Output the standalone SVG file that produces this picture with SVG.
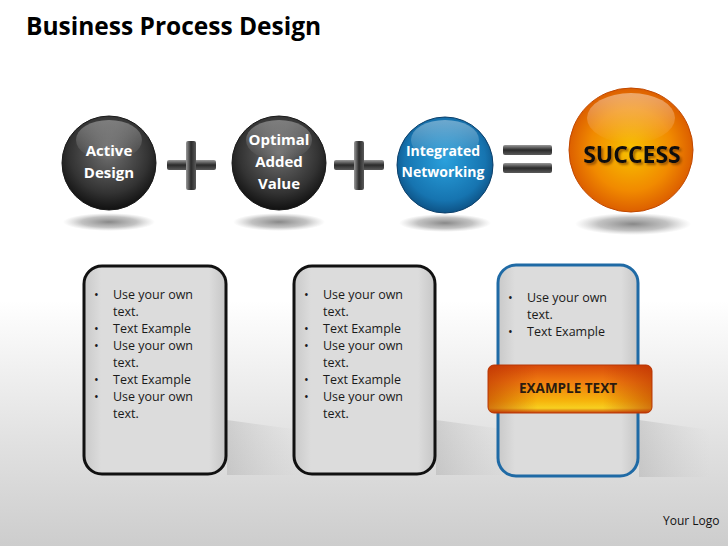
<svg xmlns="http://www.w3.org/2000/svg" width="728" height="546" viewBox="0 0 728 546">
<defs>
<linearGradient id="bg" x1="0" y1="0" x2="0" y2="1">
<stop offset="0" stop-color="#ffffff"/>
<stop offset="0.55" stop-color="#ffffff"/>
<stop offset="0.8" stop-color="#e2e2e2"/>
<stop offset="1" stop-color="#cdcdcd"/>
</linearGradient>
<radialGradient id="dark" cx="0.5" cy="0.4" r="0.6">
<stop offset="0" stop-color="#6e6e6e"/>
<stop offset="0.7" stop-color="#333333"/>
<stop offset="1" stop-color="#111111"/>
</radialGradient>
<radialGradient id="blue" cx="0.5" cy="0.45" r="0.6">
<stop offset="0" stop-color="#2aa0dc"/>
<stop offset="0.7" stop-color="#1674b0"/>
<stop offset="1" stop-color="#0a4676"/>
</radialGradient>
<radialGradient id="orange" cx="0.5" cy="0.5" r="0.55">
<stop offset="0" stop-color="#f8c200"/>
<stop offset="0.6" stop-color="#f18a00"/>
<stop offset="1" stop-color="#d65200"/>
</radialGradient>
<linearGradient id="gloss" x1="0" y1="0" x2="0" y2="1">
<stop offset="0" stop-color="#ffffff" stop-opacity="0.75"/>
<stop offset="1" stop-color="#ffffff" stop-opacity="0"/>
</linearGradient>
<radialGradient id="shadow" cx="0.5" cy="0.5" r="0.5">
<stop offset="0" stop-color="#555" stop-opacity="0.7"/>
<stop offset="0.6" stop-color="#777" stop-opacity="0.45"/>
<stop offset="1" stop-color="#999" stop-opacity="0"/>
</radialGradient>
<linearGradient id="bar" x1="0" y1="0" x2="0" y2="1">
<stop offset="0" stop-color="#9a9a9a"/>
<stop offset="0.5" stop-color="#2a2a2a"/>
<stop offset="1" stop-color="#5a5a5a"/>
</linearGradient>
<linearGradient id="barv" x1="0" y1="0" x2="1" y2="0">
<stop offset="0" stop-color="#9a9a9a"/>
<stop offset="0.5" stop-color="#2a2a2a"/>
<stop offset="1" stop-color="#5a5a5a"/>
</linearGradient>
<linearGradient id="card" x1="0" y1="0" x2="1" y2="0">
<stop offset="0" stop-color="#c9c9c9"/>
<stop offset="0.12" stop-color="#dcdcdc"/>
<stop offset="0.88" stop-color="#dcdcdc"/>
<stop offset="1" stop-color="#c6c6c6"/>
</linearGradient>
<linearGradient id="band" x1="0" y1="0" x2="0" y2="1">
<stop offset="0" stop-color="#d84a0a"/>
<stop offset="0.35" stop-color="#f07d10"/>
<stop offset="0.75" stop-color="#f6b40c"/>
<stop offset="0.9" stop-color="#f7d020"/>
<stop offset="1" stop-color="#c8400a"/>
</linearGradient>
<linearGradient id="bandside" x1="0" y1="0" x2="1" y2="0">
<stop offset="0" stop-color="#b52a00" stop-opacity="0.55"/>
<stop offset="0.3" stop-color="#b52a00" stop-opacity="0"/>
<stop offset="0.7" stop-color="#b52a00" stop-opacity="0"/>
<stop offset="1" stop-color="#b52a00" stop-opacity="0.55"/>
</linearGradient>
<linearGradient id="cardshadow" x1="0" y1="0" x2="1" y2="0">
<stop offset="0" stop-color="#888" stop-opacity="0.5"/>
<stop offset="1" stop-color="#aaa" stop-opacity="0"/>
</linearGradient>
<filter id="ts" x="-10%" y="-30%" width="130%" height="170%">
<feDropShadow dx="2" dy="2" stdDeviation="1" flood-color="#6a3000" flood-opacity="0.6"/>
</filter>
</defs>
<style>
.t{font-family:"Open Sans","Liberation Sans",sans-serif}
.title{font-size:24.5px;font-weight:bold;fill:#000}
.ct{font-size:15px;font-weight:bold;fill:#fff;text-anchor:middle}
.bt{font-size:12.5px;fill:#1a1a1a}
.cardd{fill:url(#card);stroke:#111;stroke-width:3}
.cardb{fill:url(#card);stroke:#1f6aa5;stroke-width:3}
</style>
<rect width="728" height="546" fill="url(#bg)"/>
<text class="t title" x="26" y="35">Business Process Design</text>

<g id="shadows">
<ellipse cx="109" cy="222" rx="46" ry="9" fill="url(#shadow)"/>
<ellipse cx="279" cy="222" rx="46" ry="9" fill="url(#shadow)"/>
<ellipse cx="445" cy="223" rx="46" ry="9" fill="url(#shadow)"/>
<ellipse cx="633" cy="224" rx="58" ry="11" fill="url(#shadow)"/>
<polygon points="227,420 300,430 300,475 227,475" fill="url(#cardshadow)" opacity="0.5"/>
<polygon points="436,420 510,430 510,475 436,475" fill="url(#cardshadow)" opacity="0.5"/>
<polygon points="639,420 710,430 710,477 639,477" fill="url(#cardshadow)" opacity="0.5"/>
</g>

<g id="node-active-design">
<circle cx="109" cy="163" r="47" fill="url(#dark)" stroke="#1a1a1a" stroke-width="1"/>
<ellipse cx="109" cy="140" rx="33" ry="20" fill="url(#gloss)" opacity="0.45"/>
<text class="t ct" x="109" y="156">Active</text>
<text class="t ct" x="109" y="178">Design</text>
</g>

<g id="node-optimal-added-value">
<circle cx="279" cy="163" r="47" fill="url(#dark)" stroke="#1a1a1a" stroke-width="1"/>
<ellipse cx="279" cy="140" rx="33" ry="20" fill="url(#gloss)" opacity="0.45"/>
<text class="t ct" x="279" y="145">Optimal</text>
<text class="t ct" x="279" y="167">Added</text>
<text class="t ct" x="279" y="189">Value</text>
</g>

<g id="node-integrated-networking">
<circle cx="445" cy="165" r="48" fill="url(#blue)" stroke="#0b3f6a" stroke-width="1"/>
<ellipse cx="445" cy="140" rx="34" ry="20" fill="url(#gloss)" opacity="0.5"/>
<text class="t ct" x="443" y="156" style="font-size:14px">Integrated</text>
<text class="t ct" x="443" y="177" style="font-size:14px">Networking</text>
</g>

<g id="node-success">
<circle cx="631" cy="150" r="62" fill="url(#orange)" stroke="#c04800" stroke-width="1"/>
<ellipse cx="631" cy="118" rx="44" ry="25" fill="url(#gloss)" opacity="0.55"/>
<text class="t" x="632" y="163" text-anchor="middle" filter="url(#ts)" style="font-size:23px;font-weight:bold;fill:#111">SUCCESS</text>
</g>

<g id="connectors">
<rect x="167" y="160" width="49" height="10" rx="2" fill="url(#bar)"/>
<rect x="186" y="141" width="10" height="49" rx="2" fill="url(#barv)"/>
<rect x="334" y="160" width="50" height="10" rx="2" fill="url(#bar)"/>
<rect x="354" y="141" width="10" height="49" rx="2" fill="url(#barv)"/>
<rect x="503" y="145" width="49" height="10" rx="2" fill="url(#bar)"/>
<rect x="503" y="163" width="49" height="10" rx="2" fill="url(#bar)"/>
</g>

<g id="card-1">
<rect class="cardd" x="84" y="266" width="142" height="208" rx="18"/>
<g class="t bt">
<text x="94" y="299">•<tspan x="113">Use your own</tspan></text>
<text x="113" y="316">text.</text>
<text x="94" y="333">•<tspan x="113">Text Example</tspan></text>
<text x="94" y="350">•<tspan x="113">Use your own</tspan></text>
<text x="113" y="367">text.</text>
<text x="94" y="384">•<tspan x="113">Text Example</tspan></text>
<text x="94" y="401">•<tspan x="113">Use your own</tspan></text>
<text x="113" y="418">text.</text>
</g>
</g>

<g id="card-2">
<rect class="cardd" x="294" y="266" width="141" height="208" rx="18"/>
<g class="t bt">
<text x="304" y="299">•<tspan x="323">Use your own</tspan></text>
<text x="323" y="316">text.</text>
<text x="304" y="333">•<tspan x="323">Text Example</tspan></text>
<text x="304" y="350">•<tspan x="323">Use your own</tspan></text>
<text x="323" y="367">text.</text>
<text x="304" y="384">•<tspan x="323">Text Example</tspan></text>
<text x="304" y="401">•<tspan x="323">Use your own</tspan></text>
<text x="323" y="418">text.</text>
</g>
</g>

<g id="card-3">
<rect class="cardb" x="498" y="265" width="140" height="211" rx="18"/>
<g class="t bt">
<text x="508" y="302">•<tspan x="527">Use your own</tspan></text>
<text x="527" y="319">text.</text>
<text x="508" y="336">•<tspan x="527">Text Example</tspan></text>
</g>
</g>

<g id="band-example-text">
<rect x="488" y="365" width="164" height="48" rx="6" fill="url(#band)" stroke="#b83a08" stroke-width="1"/>
<rect x="488" y="365" width="164" height="48" rx="6" fill="url(#bandside)"/>
<text class="t" x="568" y="393" text-anchor="middle" style="font-size:13.5px;font-weight:bold;fill:#2a1a10">EXAMPLE TEXT</text>
</g>

<text class="t" x="663" y="525" style="font-size:12px;fill:#111">Your Logo</text>
</svg>
